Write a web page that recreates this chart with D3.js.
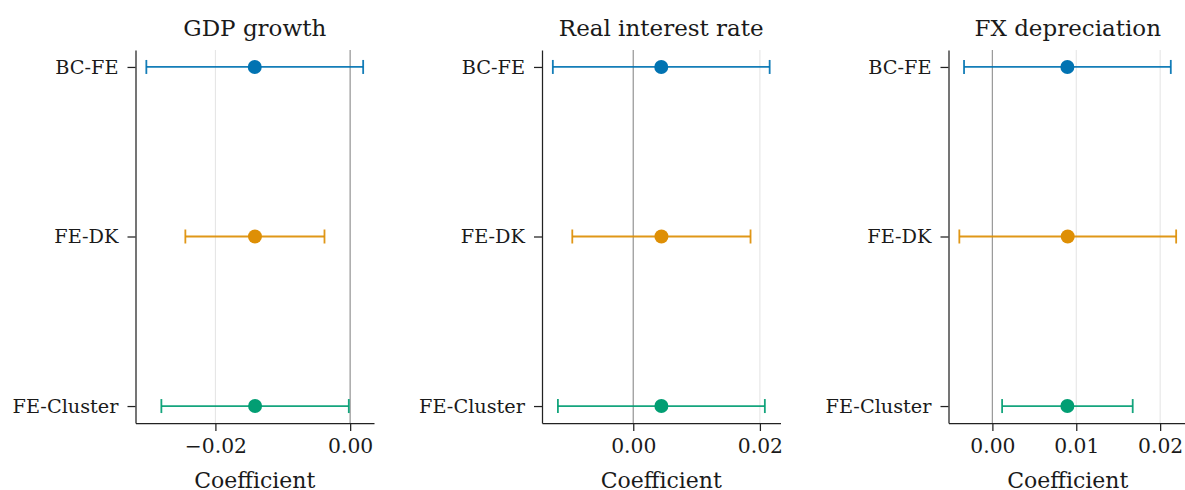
<!DOCTYPE html>
<html><head><meta charset="utf-8">
<script src="https://cdn.jsdelivr.net/npm/d3@7"></script>
<style>
html,body{margin:0;padding:0;background:#fff;}
svg{display:block;}
text{font-family:"DejaVu Serif",serif;fill:#1a1a1a;}
</style></head>
<body><svg id="c" width="1185" height="490"></svg>
<script>
const panels = ["GDP growth", "Real interest rate", "FX depreciation"];
const models = ["BC-FE", "FE-DK", "FE-Cluster"];
const colors = ["#0173b2", "#de8f05", "#029e73"];
// coefficient estimates per panel (same across models)
const estGDP = [-0.01416, -0.01413, -0.01411];
const estRate = [0.00442, 0.00445, 0.00444];
const estFX = [0.00894, 0.00898, 0.00894];
// confidence interval bounds
const loGDP = [-0.03025, -0.02446, -0.02802];
const hiGDP = [0.00193, -0.00381, -0.00020];
const loRate = [-0.01270, -0.00963, -0.01190];
const hiRate = [0.02154, 0.01852, 0.02078];
const loFX = [-0.00338, -0.00394, 0.00116];
const hiFX = [0.02127, 0.02191, 0.01673];
const ticksGDP = [-0.02, 0.00];
const ticksRate = [0.00, 0.02];
const ticksFX = [0.00, 0.01, 0.02];

const panelData = [
  {est: estGDP, lo: loGDP, hi: hiGDP, ticks: ticksGDP},
  {est: estRate, lo: loRate, hi: hiRate, ticks: ticksRate},
  {est: estFX, lo: loFX, hi: hiFX, ticks: ticksFX}
];

const svg = d3.select("#c");
const plotTop = 50, plotBottom = 423;
const lefts = [135.5, 542, 948.5];
const pw = 238.5;

panelData.forEach((pd, pi) => {
  const x0 = lefts[pi];
  const mn = d3.min(pd.lo), mx = d3.max(pd.hi);
  const m = (mx - mn) * 0.05;
  const x = d3.scaleLinear().domain([mn - m, mx + m]).range([x0, x0 + pw]);
  const y = d3.scaleLinear().domain([-0.1, 2.1]).range([plotTop, plotBottom]);
  const g = svg.append("g");

  // grid
  g.selectAll("line.grid").data(pd.ticks).enter().append("line")
    .attr("x1", d => x(d)).attr("x2", d => x(d))
    .attr("y1", plotTop).attr("y2", plotBottom)
    .attr("stroke", "#e3e3e3").attr("stroke-width", 1);
  // zero line
  g.append("line").attr("x1", x(0)).attr("x2", x(0))
    .attr("y1", plotTop).attr("y2", plotBottom)
    .attr("stroke", "#9a9a9a").attr("stroke-width", 1.2);

  // error bars
  models.forEach((mname, i) => {
    const yy = y(i);
    const c = colors[i];
    g.append("line").attr("x1", x(pd.lo[i])).attr("x2", x(pd.hi[i]))
      .attr("y1", yy).attr("y2", yy).attr("stroke", c).attr("stroke-width", 1.8).attr("opacity", 0.92);
    [pd.lo[i], pd.hi[i]].forEach(v => {
      g.append("line").attr("x1", x(v)).attr("x2", x(v))
        .attr("y1", yy - 7).attr("y2", yy + 7).attr("stroke", c).attr("stroke-width", 1.8).attr("opacity", 0.92);
    });
    g.append("circle").attr("cx", x(pd.est[i])).attr("cy", yy).attr("r", 7).attr("fill", c);
  });

  // x axis
  const xa = g.append("g").attr("transform", `translate(0,${plotBottom})`)
    .call(d3.axisBottom(x).tickValues(pd.ticks).tickSizeInner(8).tickSizeOuter(0).tickPadding(8)
      .tickFormat(d => (d < 0 ? "\u2212" : "") + d3.format(".2f")(Math.abs(d))));
  xa.select(".domain").attr("stroke", "#222").attr("stroke-width", 1.25);
  xa.selectAll(".tick line").attr("stroke", "#222").attr("stroke-width", 1.25);
  xa.selectAll(".tick text").attr("font-size", 20.3).attr("font-family", "DejaVu Serif").attr("fill", "#1a1a1a");

  // y axis
  const ya = g.append("g").attr("transform", `translate(${x0},0)`)
    .call(d3.axisLeft(y).tickValues([0, 1, 2]).tickFormat(i => models[i]).tickSizeInner(8).tickSizeOuter(0).tickPadding(9));
  ya.select(".domain").attr("stroke", "#222").attr("stroke-width", 1.25);
  ya.selectAll(".tick line").attr("stroke", "#222").attr("stroke-width", 1.25);
  ya.selectAll(".tick text").attr("font-size", 19.3).attr("font-family", "DejaVu Serif").attr("fill", "#1a1a1a");

  // title
  g.append("text").attr("x", x0 + pw / 2).attr("y", 35.5).attr("text-anchor", "middle")
    .attr("font-size", 23).text(panels[pi]);
  // x label
  g.append("text").attr("x", x0 + pw / 2).attr("y", 488).attr("text-anchor", "middle")
    .attr("font-size", 22).text("Coefficient");
});
</script></body></html>
